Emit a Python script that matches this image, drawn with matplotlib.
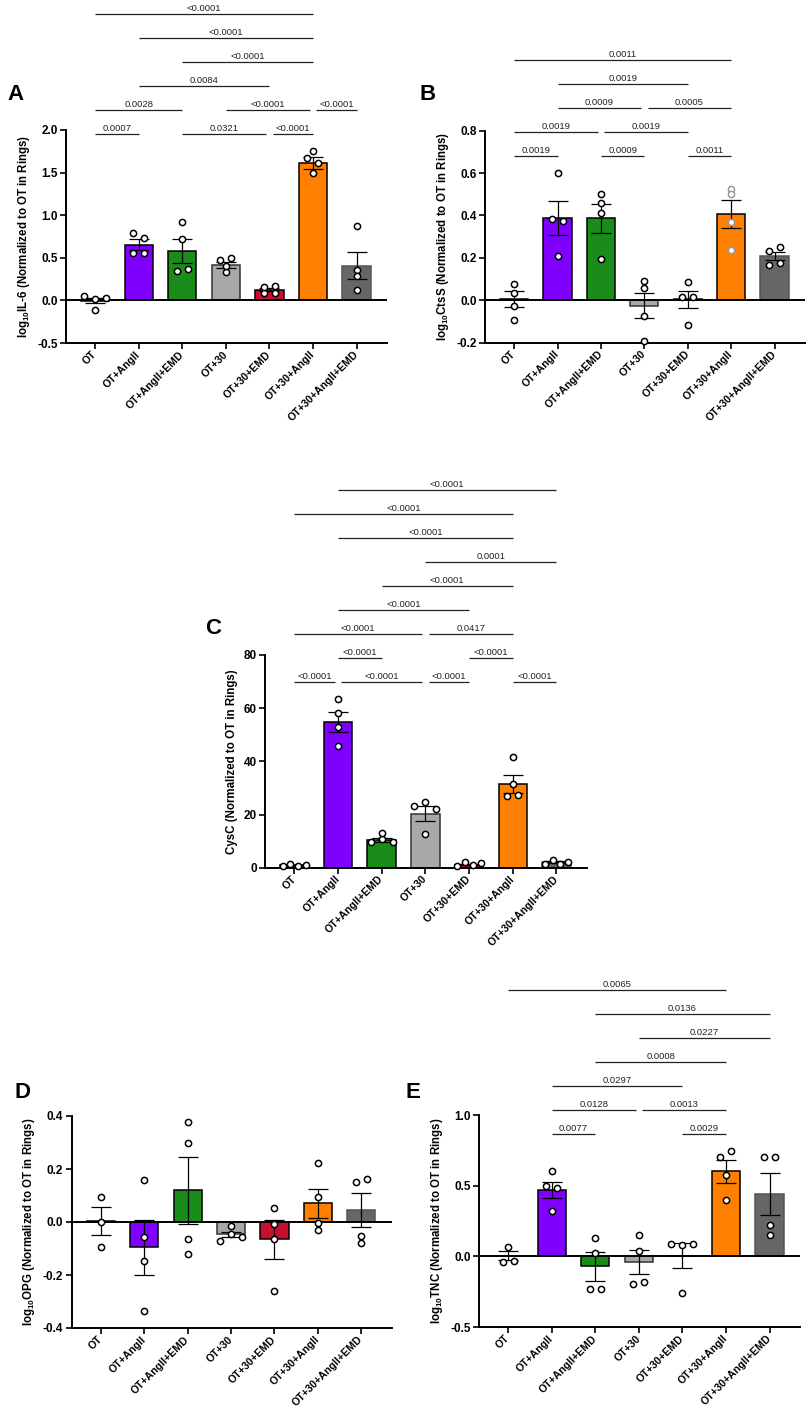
import numpy as np
import matplotlib
matplotlib.use('Agg')
import matplotlib.pyplot as plt
from matplotlib.ticker import FormatStrFormatter

plt.rcParams['font.family'] = ['Liberation Sans', 'DejaVu Sans']
plt.rcParams['mathtext.fontset'] = 'custom'
plt.rcParams['mathtext.rm'] = 'Liberation Sans'
plt.rcParams['mathtext.bf'] = 'Liberation Sans:bold'

W, H = 810, 1412

groups = ['OT', 'OT+AngII', 'OT+AngII+EMD', 'OT+30', 'OT+30+EMD',
          'OT+30+AngII', 'OT+30+AngII+EMD']
colors = ['white', '#7f00ff', '#1a8c1a', '#a8a8a8', '#c8102e', '#ff8000', '#666666']
edges = ['black', 'black', 'black', '#333333', 'black', 'black', '#555555']

# A - IL-6
il6_mean = [-0.005, 0.655, 0.584, 0.416, 0.125, 1.616, 0.408]
il6_sem = [0.03, 0.063, 0.14, 0.035, 0.02, 0.07, 0.157]
il6_pts = [[0.047, 0.012, 0.031, -0.118], [0.79, 0.737, 0.56, 0.56],
           [0.92, 0.72, 0.345, 0.37], [0.47, 0.50, 0.333, 0.40],
           [0.086, 0.153, 0.173, 0.086], [1.753, 1.667, 1.608, 1.498],
           [0.875, 0.36, 0.29, 0.125]]
il6_rows = [
    [(0, 1, '0.0007'), (2, 4, '0.0321'), (4, 5, '<0.0001')],
    [(0, 2, '0.0028'), (3, 5, '<0.0001'), (5, 6, '<0.0001')],
    [(1, 4, '0.0084')],
    [(2, 5, '<0.0001')],
    [(1, 5, '<0.0001')],
    [(0, 5, '<0.0001')],
]

# B - CtsS
ctss_mean = [0.005, 0.387, 0.387, -0.025, 0.005, 0.406, 0.208]
ctss_sem = [0.037, 0.08, 0.068, 0.06, 0.04, 0.067, 0.02]
ctss_pts = [[0.079, 0.034, -0.028, -0.091], [0.60, 0.382, 0.374, 0.21],
            [0.503, 0.46, 0.41, 0.195], [0.09, 0.06, -0.074, -0.19],
            [0.085, 0.017, 0.017, -0.118], [0.527, 0.50, 0.371, 0.236],
            [0.233, 0.252, 0.168, 0.178]]
ctss_rows = [
    [(0, 1, '0.0019'), (2, 3, '0.0009'), (4, 5, '0.0011')],
    [(0, 2, '0.0019'), (2, 4, '0.0019')],
    [(1, 3, '0.0009'), (3, 5, '0.0005')],
    [(1, 4, '0.0019')],
    [(0, 5, '0.0011')],
]

# C - CysC
cysc_mean = [1.0, 54.9, 10.4, 20.3, 1.2, 31.5, 2.0]
cysc_sem = [0.2, 3.7, 0.8, 2.8, 0.3, 3.5, 0.4]
cysc_pts = [[0.5, 1.25, 0.75, 0.9], [63.6, 58.3, 52.8, 45.9],
            [9.5, 10.8, 9.5, 13.0], [23.3, 24.8, 22.1, 12.5],
            [0.75, 2.0, 1.0, 1.75], [41.6, 31.5, 27.0, 27.5],
            [1.25, 2.9, 1.25, 2.1]]
cysc_rows = [
    [(0, 1, '<0.0001'), (1, 3, '<0.0001'), (3, 4, '<0.0001'), (5, 6, '<0.0001')],
    [(1, 2, '<0.0001'), (4, 5, '<0.0001')],
    [(0, 3, '<0.0001'), (3, 5, '0.0417')],
    [(1, 4, '<0.0001')],
    [(2, 5, '<0.0001')],
    [(3, 6, '0.0001')],
    [(1, 5, '<0.0001')],
    [(0, 5, '<0.0001')],
    [(1, 6, '<0.0001')],
]

# D - OPG
opg_mean = [0.004, -0.096, 0.119, -0.046, -0.066, 0.07, 0.046]
opg_sem = [0.054, 0.103, 0.125, 0.01, 0.074, 0.056, 0.064]
opg_pts = [[0.0925, 0.001, -0.095], [0.16, -0.0575, -0.1475, -0.3375],
           [0.379, 0.2975, -0.064, -0.1225], [-0.014, -0.071, -0.044, -0.056],
           [0.0525, -0.009, -0.066, -0.26], [0.221, 0.094, -0.004, -0.031],
           [0.151, 0.164, -0.051, -0.0775]]

# E - TNC
tnc_mean = [0.005, 0.47, -0.071, -0.0425, 0.005, 0.602, 0.442]
tnc_sem = [0.03, 0.058, 0.1, 0.085, 0.09, 0.08, 0.15]
tnc_pts = [[0.066, -0.0425, -0.031], [0.602, 0.501, 0.487, 0.324],
           [0.132, 0.024, -0.2315, -0.229], [0.149, 0.038, -0.194, -0.184],
           [0.085, 0.083, 0.085, -0.2575], [0.706, 0.744, 0.576, 0.397],
           [0.704, 0.704, 0.22, 0.151]]
tnc_rows = [
    [(1, 2, '0.0077'), (4, 5, '0.0029')],
    [(1, 3, '0.0128'), (3, 5, '0.0013')],
    [(1, 4, '0.0297')],
    [(2, 5, '0.0008')],
    [(3, 6, '0.0227')],
    [(2, 6, '0.0136')],
    [(0, 5, '0.0065')],
]

XLIM = (-0.67, 6.7)


def swarm(vals, ypx, xpx, thresh=5.5):
    # spread points that would overlap side by side
    vals = np.asarray(vals, dtype=float)
    order = np.argsort(vals, kind='stable')
    clusters = [[order[0]]]
    for a, b in zip(order[:-1], order[1:]):
        if (vals[b] - vals[a]) * ypx < thresh:
            clusters[-1].append(b)
        else:
            clusters.append([b])
    offs = np.zeros(len(vals))
    for c in clusters:
        c = sorted(c)
        k = len(c)
        step = (11.0 if k < 4 else 7.7) / xpx
        for n, idx in enumerate(c):
            offs[idx] = (n - (k - 1) / 2) * step
    return offs


def panel(fig, rect, means, sems, pts, ylim, yticks, fmt, ylabel,
          rows=None, base=None, pt_edge=None):
    ax = fig.add_axes(rect)
    x = np.arange(len(groups))
    ax.set_xlim(*XLIM)
    ax.set_ylim(*ylim)
    xpx = rect[2] * W / (XLIM[1] - XLIM[0])
    ypx = rect[3] * H / (ylim[1] - ylim[0])

    ax.bar(x, means, width=0.65, color=colors, edgecolor=edges, linewidth=1.1, zorder=2)
    if ylim[0] < 0:
        ax.axhline(0, color='black', lw=1.4, zorder=2.5)
    ax.errorbar(x, means, yerr=sems, fmt='none', ecolor='black', elinewidth=0.9,
                capsize=7, capthick=0.9, zorder=3)
    for i, vals in enumerate(pts):
        offs = swarm(vals, ypx, xpx)
        ec = 'black'
        if pt_edge and i in pt_edge:
            ec = pt_edge[i]
        ax.scatter(i + offs, vals, s=20, facecolor='white', edgecolor=ec,
                   linewidth=1.1, zorder=4, clip_on=False)

    for s in ['top', 'right']:
        ax.spines[s].set_visible(False)
    for s in ['left', 'bottom']:
        ax.spines[s].set_linewidth(1.4)
    ax.set_xticks(x)
    ax.set_xticklabels(groups, rotation=45, ha='right', va='center',
                       rotation_mode='anchor', fontsize=7.6, fontweight='bold')
    ax.set_yticks(yticks)
    ax.yaxis.set_major_formatter(FormatStrFormatter(fmt))
    ax.tick_params(axis='both', length=4, width=1.2, pad=2)
    ax.tick_params(axis='x', pad=3)
    for lab in ax.get_yticklabels():
        lab.set_fontweight('bold')
        lab.set_fontsize(8.5)
    ax.set_ylabel(ylabel, fontsize=8.3, fontweight='bold', labelpad=4)

    if rows:
        step = 24.0 / ypx
        sh = 3.3 / xpx
        for r, row in enumerate(rows):
            y = base + r * step
            for (i, j, p) in row:
                x0, x1 = float(i), float(j)
                if any(o[1] == i for o in row):
                    x0 += sh
                if any(o[0] == j for o in row):
                    x1 -= sh
                ax.plot([x0, x1], [y, y], color='#222222', lw=0.9,
                        clip_on=False, solid_capstyle='butt')
                ax.text((x0 + x1) / 2, y + 1.0 / ypx, p, ha='center', va='bottom',
                        fontsize=6.8, color='#222222', clip_on=False)
    return ax


def frac(l, r, t, b):
    return [l / W, 1 - b / H, (r - l) / W, (b - t) / H]


fig = plt.figure(figsize=(W / 100, H / 100), dpi=100)

panel(fig, frac(66, 387, 130, 343), il6_mean, il6_sem, il6_pts, (-0.5, 2.0),
      [-0.5, 0.0, 0.5, 1.0, 1.5, 2.0], '%.1f',
      r'log$_{\mathbf{10}}$IL-6 (Normalized to OT in Rings)',
      rows=il6_rows, base=1.95)

panel(fig, frac(485, 805, 130.7, 342.7), ctss_mean, ctss_sem, ctss_pts, (-0.2, 0.8),
      [-0.2, 0.0, 0.2, 0.4, 0.6, 0.8], '%.1f',
      r'log$_{\mathbf{10}}$CtsS (Normalized to OT in Rings)',
      rows=ctss_rows, base=0.682, pt_edge={5: '#999999'})

panel(fig, frac(265, 587, 655, 867.7), cysc_mean, cysc_sem, cysc_pts, (0, 80),
      [0, 20, 40, 60, 80], '%d',
      'CysC (Normalized to OT in Rings)',
      rows=cysc_rows, base=69.7)

panel(fig, frac(71.7, 391.7, 1116, 1328), opg_mean, opg_sem, opg_pts, (-0.4, 0.4),
      [-0.4, -0.2, 0.0, 0.2, 0.4], '%.1f',
      r'log$_{\mathbf{10}}$OPG (Normalized to OT in Rings)')

panel(fig, frac(479, 800, 1115.3, 1327), tnc_mean, tnc_sem, tnc_pts, (-0.5, 1.0),
      [-0.5, 0.0, 0.5, 1.0], '%.1f',
      r'log$_{\mathbf{10}}$TNC (Normalized to OT in Rings)',
      rows=tnc_rows, base=0.865)

for letter, (lx, ly) in zip('ABCDE', [(15, 95), (428, 95), (213, 628),
                                      (22, 1092), (413, 1092)]):
    fig.text(lx / W, 1 - ly / H, letter, fontsize=16, fontweight='bold',
             ha='center', va='center')

fig.savefig('out.png', dpi=100)
